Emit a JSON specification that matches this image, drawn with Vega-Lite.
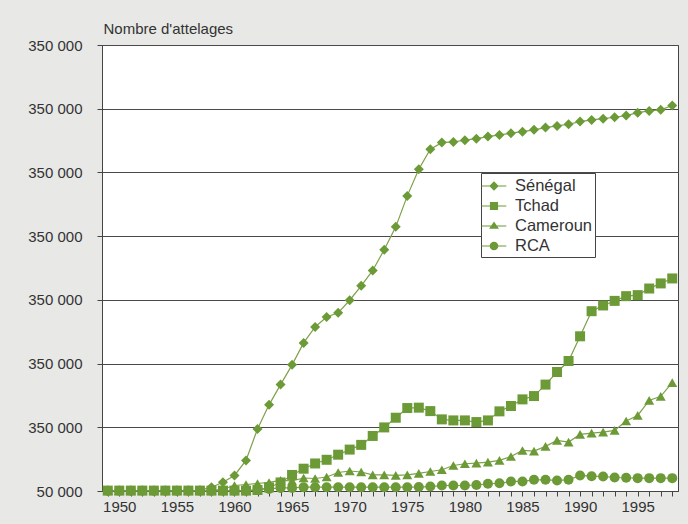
{
  "$schema": "https://vega.github.io/schema/vega-lite/v6.json",
  "autosize": "none",
  "width": 576,
  "height": 446,
  "padding": {"left": 102, "top": 45, "right": 10, "bottom": 33},
  "background": "#e8e8e6",
  "data": {"values": [
    {"year":1949,"country":"Sénégal","value":400},{"year":1950,"country":"Sénégal","value":400},{"year":1951,"country":"Sénégal","value":400},{"year":1952,"country":"Sénégal","value":400},{"year":1953,"country":"Sénégal","value":400},{"year":1954,"country":"Sénégal","value":400},{"year":1955,"country":"Sénégal","value":400},{"year":1956,"country":"Sénégal","value":400},{"year":1957,"country":"Sénégal","value":500},{"year":1958,"country":"Sénégal","value":3000},{"year":1959,"country":"Sénégal","value":6900},{"year":1960,"country":"Sénégal","value":12200},{"year":1961,"country":"Sénégal","value":24000},{"year":1962,"country":"Sénégal","value":48700},{"year":1963,"country":"Sénégal","value":67600},{"year":1964,"country":"Sénégal","value":83500},{"year":1965,"country":"Sénégal","value":99000},{"year":1966,"country":"Sénégal","value":116200},{"year":1967,"country":"Sénégal","value":128700},{"year":1968,"country":"Sénégal","value":136600},{"year":1969,"country":"Sénégal","value":139800},{"year":1970,"country":"Sénégal","value":149700},{"year":1971,"country":"Sénégal","value":161000},{"year":1972,"country":"Sénégal","value":173100},{"year":1973,"country":"Sénégal","value":189400},{"year":1974,"country":"Sénégal","value":207300},{"year":1975,"country":"Sénégal","value":231600},{"year":1976,"country":"Sénégal","value":252500},{"year":1977,"country":"Sénégal","value":268200},{"year":1978,"country":"Sénégal","value":273400},{"year":1979,"country":"Sénégal","value":273900},{"year":1980,"country":"Sénégal","value":275300},{"year":1981,"country":"Sénégal","value":276500},{"year":1982,"country":"Sénégal","value":278100},{"year":1983,"country":"Sénégal","value":279400},{"year":1984,"country":"Sénégal","value":280800},{"year":1985,"country":"Sénégal","value":282000},{"year":1986,"country":"Sénégal","value":283400},{"year":1987,"country":"Sénégal","value":285200},{"year":1988,"country":"Sénégal","value":286500},{"year":1989,"country":"Sénégal","value":287800},{"year":1990,"country":"Sénégal","value":289900},{"year":1991,"country":"Sénégal","value":291200},{"year":1992,"country":"Sénégal","value":292200},{"year":1993,"country":"Sénégal","value":293300},{"year":1994,"country":"Sénégal","value":294600},{"year":1995,"country":"Sénégal","value":296900},{"year":1996,"country":"Sénégal","value":298300},{"year":1997,"country":"Sénégal","value":299100},{"year":1998,"country":"Sénégal","value":302500},
    {"year":1949,"country":"Tchad","value":300},{"year":1950,"country":"Tchad","value":300},{"year":1951,"country":"Tchad","value":300},{"year":1952,"country":"Tchad","value":300},{"year":1953,"country":"Tchad","value":300},{"year":1954,"country":"Tchad","value":300},{"year":1955,"country":"Tchad","value":300},{"year":1956,"country":"Tchad","value":300},{"year":1957,"country":"Tchad","value":300},{"year":1958,"country":"Tchad","value":300},{"year":1959,"country":"Tchad","value":300},{"year":1960,"country":"Tchad","value":300},{"year":1961,"country":"Tchad","value":300},{"year":1962,"country":"Tchad","value":800},{"year":1963,"country":"Tchad","value":2800},{"year":1964,"country":"Tchad","value":6700},{"year":1965,"country":"Tchad","value":12600},{"year":1966,"country":"Tchad","value":17500},{"year":1967,"country":"Tchad","value":21600},{"year":1968,"country":"Tchad","value":24500},{"year":1969,"country":"Tchad","value":28500},{"year":1970,"country":"Tchad","value":32500},{"year":1971,"country":"Tchad","value":36200},{"year":1972,"country":"Tchad","value":43200},{"year":1973,"country":"Tchad","value":49900},{"year":1974,"country":"Tchad","value":57500},{"year":1975,"country":"Tchad","value":65100},{"year":1976,"country":"Tchad","value":65400},{"year":1977,"country":"Tchad","value":62700},{"year":1978,"country":"Tchad","value":56200},{"year":1979,"country":"Tchad","value":55400},{"year":1980,"country":"Tchad","value":55400},{"year":1981,"country":"Tchad","value":54100},{"year":1982,"country":"Tchad","value":55400},{"year":1983,"country":"Tchad","value":62500},{"year":1984,"country":"Tchad","value":66700},{"year":1985,"country":"Tchad","value":71900},{"year":1986,"country":"Tchad","value":74500},{"year":1987,"country":"Tchad","value":83500},{"year":1988,"country":"Tchad","value":93400},{"year":1989,"country":"Tchad","value":102000},{"year":1990,"country":"Tchad","value":121400},{"year":1991,"country":"Tchad","value":141100},{"year":1992,"country":"Tchad","value":145600},{"year":1993,"country":"Tchad","value":149200},{"year":1994,"country":"Tchad","value":152900},{"year":1995,"country":"Tchad","value":153700},{"year":1996,"country":"Tchad","value":158900},{"year":1997,"country":"Tchad","value":162900},{"year":1998,"country":"Tchad","value":166800},
    {"year":1949,"country":"Cameroun","value":300},{"year":1950,"country":"Cameroun","value":300},{"year":1951,"country":"Cameroun","value":300},{"year":1952,"country":"Cameroun","value":300},{"year":1953,"country":"Cameroun","value":300},{"year":1954,"country":"Cameroun","value":300},{"year":1955,"country":"Cameroun","value":300},{"year":1956,"country":"Cameroun","value":300},{"year":1957,"country":"Cameroun","value":300},{"year":1958,"country":"Cameroun","value":300},{"year":1959,"country":"Cameroun","value":1500},{"year":1960,"country":"Cameroun","value":4300},{"year":1961,"country":"Cameroun","value":5100},{"year":1962,"country":"Cameroun","value":5900},{"year":1963,"country":"Cameroun","value":6700},{"year":1964,"country":"Cameroun","value":8300},{"year":1965,"country":"Cameroun","value":7900},{"year":1966,"country":"Cameroun","value":10200},{"year":1967,"country":"Cameroun","value":9800},{"year":1968,"country":"Cameroun","value":11000},{"year":1969,"country":"Cameroun","value":14500},{"year":1970,"country":"Cameroun","value":15700},{"year":1971,"country":"Cameroun","value":14900},{"year":1972,"country":"Cameroun","value":12600},{"year":1973,"country":"Cameroun","value":12600},{"year":1974,"country":"Cameroun","value":12200},{"year":1975,"country":"Cameroun","value":12700},{"year":1976,"country":"Cameroun","value":13800},{"year":1977,"country":"Cameroun","value":15300},{"year":1978,"country":"Cameroun","value":16700},{"year":1979,"country":"Cameroun","value":20000},{"year":1980,"country":"Cameroun","value":21400},{"year":1981,"country":"Cameroun","value":21900},{"year":1982,"country":"Cameroun","value":22600},{"year":1983,"country":"Cameroun","value":24000},{"year":1984,"country":"Cameroun","value":27100},{"year":1985,"country":"Cameroun","value":31800},{"year":1986,"country":"Cameroun","value":31300},{"year":1987,"country":"Cameroun","value":35000},{"year":1988,"country":"Cameroun","value":39700},{"year":1989,"country":"Cameroun","value":38400},{"year":1990,"country":"Cameroun","value":44400},{"year":1991,"country":"Cameroun","value":45400},{"year":1992,"country":"Cameroun","value":46200},{"year":1993,"country":"Cameroun","value":47600},{"year":1994,"country":"Cameroun","value":54900},{"year":1995,"country":"Cameroun","value":59300},{"year":1996,"country":"Cameroun","value":71100},{"year":1997,"country":"Cameroun","value":74300},{"year":1998,"country":"Cameroun","value":85000},
    {"year":1949,"country":"RCA","value":200},{"year":1950,"country":"RCA","value":200},{"year":1951,"country":"RCA","value":200},{"year":1952,"country":"RCA","value":200},{"year":1953,"country":"RCA","value":200},{"year":1954,"country":"RCA","value":200},{"year":1955,"country":"RCA","value":200},{"year":1956,"country":"RCA","value":200},{"year":1957,"country":"RCA","value":200},{"year":1958,"country":"RCA","value":200},{"year":1959,"country":"RCA","value":200},{"year":1960,"country":"RCA","value":200},{"year":1961,"country":"RCA","value":200},{"year":1962,"country":"RCA","value":1000},{"year":1963,"country":"RCA","value":1600},{"year":1964,"country":"RCA","value":2400},{"year":1965,"country":"RCA","value":2400},{"year":1966,"country":"RCA","value":3000},{"year":1967,"country":"RCA","value":3000},{"year":1968,"country":"RCA","value":3000},{"year":1969,"country":"RCA","value":3000},{"year":1970,"country":"RCA","value":3000},{"year":1971,"country":"RCA","value":3000},{"year":1972,"country":"RCA","value":3000},{"year":1973,"country":"RCA","value":3000},{"year":1974,"country":"RCA","value":3000},{"year":1975,"country":"RCA","value":3000},{"year":1976,"country":"RCA","value":3100},{"year":1977,"country":"RCA","value":3500},{"year":1978,"country":"RCA","value":4300},{"year":1979,"country":"RCA","value":4300},{"year":1980,"country":"RCA","value":4300},{"year":1981,"country":"RCA","value":4700},{"year":1982,"country":"RCA","value":5700},{"year":1983,"country":"RCA","value":6100},{"year":1984,"country":"RCA","value":7500},{"year":1985,"country":"RCA","value":7500},{"year":1986,"country":"RCA","value":8800},{"year":1987,"country":"RCA","value":8800},{"year":1988,"country":"RCA","value":8300},{"year":1989,"country":"RCA","value":8800},{"year":1990,"country":"RCA","value":12200},{"year":1991,"country":"RCA","value":11600},{"year":1992,"country":"RCA","value":11400},{"year":1993,"country":"RCA","value":10600},{"year":1994,"country":"RCA","value":10400},{"year":1995,"country":"RCA","value":10100},{"year":1996,"country":"RCA","value":10100},{"year":1997,"country":"RCA","value":10100},{"year":1998,"country":"RCA","value":10100}
  ]},
  "encoding": {
    "x": {
      "field": "year", "type": "quantitative",
      "scale": {"domain": [1948.5, 1998.5], "nice": false, "zero": false},
      "axis": {
        "title": null, "grid": false,
        "values": [1949,1950,1951,1952,1953,1954,1955,1956,1957,1958,1959,1960,1961,1962,1963,1964,1965,1966,1967,1968,1969,1970,1971,1972,1973,1974,1975,1976,1977,1978,1979,1980,1981,1982,1983,1984,1985,1986,1987,1988,1989,1990,1991,1992,1993,1994,1995,1996,1997,1998],
        "labelExpr": "datum.value % 5 === 0 ? '' + datum.value : ''",
        "labelFontSize": 15, "labelPadding": 3, "tickSize": 5, "labelFlush": false, "labelOverlap": false
      }
    },
    "y": {
      "field": "value", "type": "quantitative",
      "scale": {"domain": [0, 350000], "nice": false},
      "axis": {
        "title": "Nombre d'attelages",
        "values": [0, 50000, 100000, 150000, 200000, 250000, 300000, 350000],
        "labelExpr": "datum.value === 0 ? '50 000' : '350 000'",
        "labelFontSize": 15, "labelPadding": 15, "tickSize": 5, "grid": true,
        "titleAngle": 0, "titleAlign": "left", "titleBaseline": "alphabetic",
        "titleX": 1, "titleY": -12, "titleFontSize": 15, "titleFontWeight": "normal"
      }
    }
  },
  "layer": [
    {
      "mark": {"type": "line", "color": "#7fa04a", "strokeWidth": 1.2},
      "encoding": {"detail": {"field": "country"}}
    },
    {
      "mark": {"type": "point", "filled": true, "opacity": 1, "color": "#6b9a36", "size": 100},
      "encoding": {
        "shape": {
          "field": "country",
          "scale": {"domain": ["Sénégal", "Tchad", "Cameroun", "RCA"], "range": ["diamond", "square", "triangle-up", "circle"]},
          "legend": null
        }
      }
    },
    {
      "transform": [{"filter": "datum.year < 0"}],
      "mark": {"type": "point", "filled": true, "opacity": 1, "color": "#6b9a36"},
      "encoding": {
        "shape": {
          "field": "country",
          "scale": {
            "domain": ["Sénégal", "Tchad", "Cameroun", "RCA"],
            "range": [
              "M-1.15,-0.055L1.15,-0.055L1.15,0.055L-1.15,0.055ZM0,-0.44L0.44,0L0,0.44L-0.44,0Z",
              "M-1.15,-0.055L1.15,-0.055L1.15,0.055L-1.15,0.055ZM-0.38,-0.38L0.38,-0.38L0.38,0.38L-0.38,0.38Z",
              "M-1.15,-0.055L1.15,-0.055L1.15,0.055L-1.15,0.055ZM0,-0.42L0.46,0.26L-0.46,0.26Z",
              "M-1.15,-0.055L1.15,-0.055L1.15,0.055L-1.15,0.055ZM0.4,0A0.4,0.4 0 1,1 -0.4,0A0.4,0.4 0 1,1 0.4,0Z"
            ]
          },
          "legend": {
            "title": null, "orient": "none", "legendX": 379, "legendY": 128,
            "fillColor": "white", "strokeColor": "#444", "padding": 2,
            "symbolSize": 460, "rowPadding": 0, "labelOffset": 10,
            "symbolFillColor": "#6b9a36", "symbolStrokeWidth": 0, "symbolOpacity": 1,
            "labelFontSize": 16.5, "labelColor": "#333", "labelFont": "Liberation Sans"
          }
        }
      }
    }
  ],
  "resolve": {"scale": {"shape": "independent"}, "legend": {"shape": "independent"}},
  "config": {
    "font": "Liberation Sans",
    "view": {"fill": "white", "stroke": "#444", "strokeWidth": 1},
    "axis": {
      "labelFont": "Liberation Sans", "titleFont": "Liberation Sans",
      "labelColor": "#333", "titleColor": "#333",
      "domainColor": "#444", "tickColor": "#444", "gridColor": "#4a4a4a",
      "gridOpacity": 1, "domainWidth": 1, "tickWidth": 1, "gridWidth": 1
    }
  }
}
